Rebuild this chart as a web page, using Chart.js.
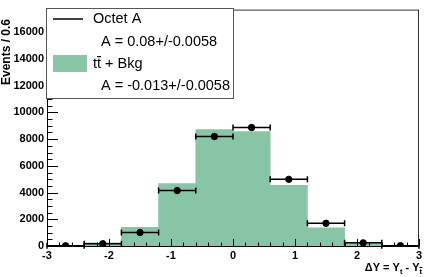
<!DOCTYPE html>
<html>
<head>
<meta charset="utf-8">
<script src="https://cdn.jsdelivr.net/npm/chart.js@4.4.1/dist/chart.umd.min.js"></script>
<style>
  html, body { margin: 0; padding: 0; background: #fff; }
  #wrap { width: 429px; height: 277px; }
</style>
</head>
<body>
<div id="wrap"><canvas id="grafico" width="429" height="277"></canvas></div>
<script>
// dados do histograma (bins de 0.6 em Delta Y)
const binCenters = [-2.7, -2.1, -1.5, -0.9, -0.3, 0.3, 0.9, 1.5, 2.1, 2.7];
const binLow     = [-3.0, -2.4, -1.8, -1.2, -0.6, 0.0, 0.6, 1.2, 1.8, 2.4];
const binHigh    = [-2.4, -1.8, -1.2, -0.6, 0.0, 0.6, 1.2, 1.8, 2.4, 3.0];
const ttbarBkg   = [20, 230, 1400, 4670, 8720, 8570, 4550, 1360, 240, 25];
const octetA     = [15, 170, 1015, 4150, 8200, 8870, 4990, 1700, 235, 25];

const yTickValues = [0, 2000, 4000, 6000, 8000, 10000, 12000, 14000, 16000];
const xTickValues = [-3, -2, -1, 0, 1, 2, 3];

const legendLabels = ['Octet A', 'tt + Bkg']; // segundo "t" leva barra (t-barra)
const asymLabels   = ['A = 0.08+/-0.0058', 'A = -0.013+/-0.0058'];
const yTitle = 'Events / 0.6';

const VERDE = '#87c5a6';
const FONTE = '"Liberation Sans", Arial, sans-serif';

// ticks internos (estilo ROOT), barras de erro, moldura e legenda
const rootStyle = {
    id: 'rootStyle',
    afterDatasetsDraw(chart) {
        const ctx = chart.ctx;
        const a = chart.chartArea;
        const x = chart.scales.x;
        const y = chart.scales.y;

        // barras de erro horizontais
        ctx.save();
        ctx.strokeStyle = '#000';
        ctx.lineWidth = 1.5;
        for (let i = 0; i < binCenters.length; i++) {
            const py = y.getPixelForValue(octetA[i]);
            const x0 = x.getPixelForValue(binLow[i]);
            const x1 = x.getPixelForValue(binHigh[i]);
            ctx.beginPath();
            ctx.moveTo(x0, py); ctx.lineTo(x1, py);
            ctx.moveTo(x0, py - 3); ctx.lineTo(x0, py + 3);
            ctx.moveTo(x1, py - 3); ctx.lineTo(x1, py + 3);
            ctx.stroke();
        }
        ctx.restore();

        // ticks (maiores e menores)
        ctx.save();
        ctx.strokeStyle = '#000';
        ctx.lineWidth = 1;
        ctx.beginPath();
        for (let v = 0; v <= y.max; v += 500) {
            const py = Math.round(y.getPixelForValue(v)) + 0.5;
            const len = (v % 2000 === 0) ? 11 : 5.5;
            ctx.moveTo(a.left, py); ctx.lineTo(a.left + len, py);
        }
        for (let k = 0; k <= 30; k++) {
            const v = -3 + k * 0.2;
            const px = Math.round(x.getPixelForValue(v)) + 0.5;
            const len = (k % 5 === 0) ? 7 : 3.5;
            ctx.moveTo(px, a.bottom); ctx.lineTo(px, a.bottom - len);
        }
        ctx.stroke();

        // moldura
        ctx.strokeStyle = '#333';
        ctx.strokeRect(a.left + 0.5, a.top + 0.5, a.right - a.left - 1, a.bottom - a.top);
        ctx.strokeStyle = '#000';
        ctx.beginPath();
        ctx.moveTo(a.left, a.bottom + 0.5); ctx.lineTo(a.right, a.bottom + 0.5);
        ctx.moveTo(a.left + 0.5, a.top); ctx.lineTo(a.left + 0.5, a.bottom);
        ctx.stroke();
        ctx.restore();

        // legenda
        ctx.save();
        ctx.fillStyle = '#fff';
        ctx.fillRect(46, 8, 187, 90);
        ctx.strokeStyle = '#555';
        ctx.strokeRect(46.5, 8.5, 187, 90);
        ctx.strokeStyle = '#000';
        ctx.lineWidth = 1.5;
        ctx.beginPath(); ctx.moveTo(53, 19); ctx.lineTo(83, 19); ctx.stroke();
        ctx.fillStyle = VERDE;
        ctx.fillRect(53, 55, 34, 17);
        ctx.fillStyle = '#000';
        ctx.font = '14.5px ' + FONTE;
        ctx.textBaseline = 'middle';
        ctx.fillText(legendLabels[0], 93, 19);
        ctx.fillText(asymLabels[0], 101, 42);
        ctx.fillText(legendLabels[1], 93, 64);
        const wt = ctx.measureText('t').width;
        ctx.fillRect(93 + wt, 56, wt, 1.2);
        ctx.fillText(asymLabels[1], 101, 86);
        ctx.restore();

        // titulo eixo y
        ctx.save();
        ctx.translate(7, 19);
        ctx.rotate(-Math.PI / 2);
        ctx.font = 'bold 12px ' + FONTE;
        ctx.textAlign = 'right';
        ctx.textBaseline = 'middle';
        ctx.fillStyle = '#000';
        ctx.fillText(yTitle, 0, 0);
        ctx.restore();

        // titulo eixo x: ΔY = Y_t - Y_tbar
        ctx.save();
        ctx.fillStyle = '#000';
        ctx.textBaseline = 'alphabetic';
        const big = 'bold 11px ' + FONTE;
        const small = 'bold 7.5px ' + FONTE;
        const partes = [['\u0394Y = Y', big, 0], ['t', small, 3], [' - Y', big, 0], ['t', small, 3]];
        let total = 0;
        for (const p of partes) { ctx.font = p[1]; total += ctx.measureText(p[0]).width; }
        let cx = 422 - total;
        const base = 271;
        for (let i = 0; i < partes.length; i++) {
            const p = partes[i];
            ctx.font = p[1];
            ctx.fillText(p[0], cx, base + p[2]);
            const w = ctx.measureText(p[0]).width;
            if (i === 3) {
                ctx.fillRect(cx, base + 3 - 7, w + 0.5, 1);
            }
            cx += w;
        }
        ctx.restore();
    }
};

new Chart(document.getElementById('grafico'), {
    type: 'bar',
    data: {
        datasets: [
            {
                type: 'scatter',
                label: legendLabels[0],
                data: binCenters.map((c, i) => ({ x: c, y: octetA[i] })),
                backgroundColor: '#000',
                borderColor: '#000',
                pointRadius: 3.2,
                pointHoverRadius: 3.2,
                order: 0
            },
            {
                label: legendLabels[1],
                data: binCenters.map((c, i) => ({ x: c, y: ttbarBkg[i] })),
                backgroundColor: VERDE,
                borderWidth: 0,
                barPercentage: 1,
                categoryPercentage: 1,
                order: 1
            }
        ]
    },
    options: {
        responsive: false,
        animation: false,
        events: [],
        layout: { padding: { top: 8, right: 10, left: 0, bottom: 0 } },
        plugins: { legend: { display: false }, tooltip: { enabled: false } },
        scales: {
            x: {
                type: 'linear',
                min: -3, max: 3,
                offset: false,
                grid: { display: false, drawTicks: false, offset: false },
                border: { display: false },
                ticks: {
                    padding: 3,
                    autoSkip: false,
                    color: '#000',
                    font: { family: FONTE, size: 11, weight: 'bold' },
                    maxRotation: 0
                },
                afterBuildTicks(scale) { scale.ticks = xTickValues.map(v => ({ value: v })); },
                afterFit(scale) { scale.height = 31; }
            },
            y: {
                type: 'linear',
                min: 0, max: 17700,
                grid: { display: false, drawTicks: false },
                border: { display: false },
                ticks: {
                    padding: 3,
                    autoSkip: false,
                    color: '#000',
                    font: { family: FONTE, size: 11, weight: 'bold' },
                    callback: v => String(v)
                },
                afterBuildTicks(scale) { scale.ticks = yTickValues.map(v => ({ value: v })); },
                afterFit(scale) { scale.width = 47; }
            }
        }
    },
    plugins: [rootStyle]
});
</script>
</body>
</html>
